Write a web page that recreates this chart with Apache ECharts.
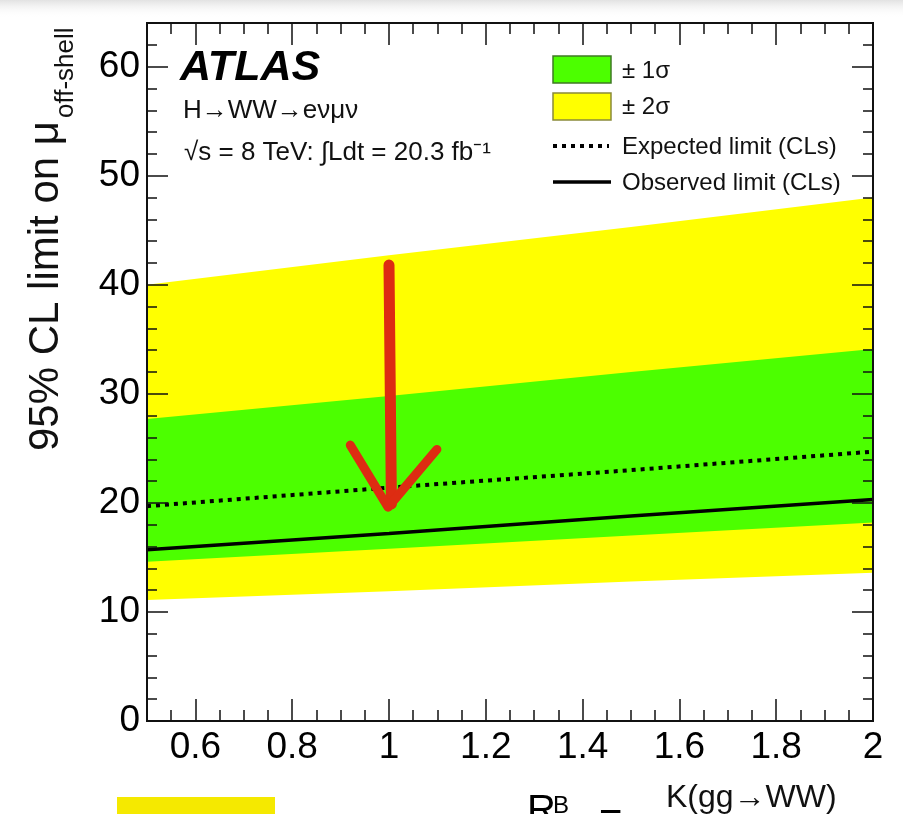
<!DOCTYPE html>
<html><head><meta charset="utf-8">
<script src="https://cdn.jsdelivr.net/npm/echarts@6/dist/echarts.min.js"></script>
<style>html,body{margin:0;padding:0;background:#fff}#c{width:903px;height:814px}</style>
</head><body><div id="c"></div>
<script>
// ---- data ----
const xValues       = [0.5, 1.0, 1.5, 2.0];
const twoSigmaUp    = [40.0, 42.7, 45.3, 48.0];
const oneSigmaUp    = [27.7, 29.8, 32.0, 34.1];
const expectedLimit = [19.7, 21.4, 23.0, 24.7];
const observedLimit = [15.7, 17.2, 18.8, 20.3];
const oneSigmaDown  = [14.6, 15.8, 17.0, 18.2];
const twoSigmaDown  = [11.1, 11.9, 12.8, 13.6];
const arrowShaft    = [[1.0, 41.8], [1.005, 19.9]];
const arrowHead     = [[0.92, 25.3], [0.998, 19.6], [1.099, 24.9]];
const xTickLabels   = [0.6, 0.8, 1.0, 1.2, 1.4, 1.6, 1.8, 2.0];
const yTickLabels   = [0, 10, 20, 30, 40, 50, 60];
const legendLabels  = ['± 1σ', '± 2σ', 'Expected limit (CLs)', 'Observed limit (CLs)'];

const FONT = 'Liberation Sans';
const YELLOW = '#ffff00', GREEN = '#4cff00', RED = '#dd2c12';

const chart = echarts.init(document.getElementById('c'), null, {renderer: 'canvas'});

function xAxisDef(pos, major, showLabel) {
  const a = {
    type: 'value', position: pos, min: 0.5, max: 2, z: 10, gridIndex: 0,
    axisLine: {show: true, onZero: false, lineStyle: {color: '#111', width: 2}},
    axisTick: {show: true, inside: true, length: major ? 22 : 11, lineStyle: {color: '#111', width: 1.5}},
    axisLabel: {show: false},
    splitLine: {show: false}
  };
  if (major) { a.axisTick.customValues = xTickLabels; }
  else { a.interval = 0.05; }
  if (showLabel) {
    a.axisLabel = {show: true, customValues: xTickLabels, fontSize: 37, color: '#000', fontFamily: FONT, margin: 8};
  }
  return a;
}
function yAxisDef(pos, major, showLabel) {
  const a = {
    type: 'value', position: pos, min: 0, max: 64, z: 10, gridIndex: 0,
    axisLine: {show: true, onZero: false, lineStyle: {color: '#111', width: 2}},
    axisTick: {show: true, inside: true, length: major ? 21 : 10, lineStyle: {color: '#111', width: 1.5}},
    axisLabel: {show: false},
    splitLine: {show: false}
  };
  if (major) { a.axisTick.customValues = yTickLabels; }
  else { a.interval = 2; }
  if (showLabel) {
    a.axisLabel = {show: true, customValues: yTickLabels, fontSize: 37, color: '#000', fontFamily: FONT, margin: 7};
  }
  return a;
}

const bands = [
  {hi: twoSigmaUp, lo: twoSigmaDown, color: YELLOW},
  {hi: oneSigmaUp, lo: oneSigmaDown, color: GREEN}
];

function txt(x, y, text, size, extra, rot) {
  const el = {
    type: 'text', x: x, y: y, z: 100,
    style: Object.assign({text: text, fontSize: size, fontFamily: FONT, fill: '#111', align: 'left', verticalAlign: 'middle'}, extra || {})
  };
  if (rot) el.rotation = rot;
  return el;
}

const option = {
  animation: false,
  backgroundColor: '#fff',
  grid: {left: 147, right: 30, top: 23, bottom: 93, outerBoundsMode: 'none', containLabel: false},
  xAxis: [xAxisDef('bottom', false, false), xAxisDef('bottom', true, true), xAxisDef('top', false, false), xAxisDef('top', true, false)],
  yAxis: [yAxisDef('left', false, false), yAxisDef('left', true, true), yAxisDef('right', false, false), yAxisDef('right', true, false)],
  series: [
    {
      type: 'custom', coordinateSystem: 'cartesian2d', xAxisIndex: 0, yAxisIndex: 0, silent: true, z: 1,
      data: bands.map(b => [xValues[0], b.lo[0]]),
      encode: {x: 0, y: 1},
      renderItem: function (params, api) {
        const b = bands[params.dataIndex];
        const pts = [];
        for (let i = 0; i < xValues.length; i++) pts.push(api.coord([xValues[i], b.hi[i]]));
        for (let i = xValues.length - 1; i >= 0; i--) pts.push(api.coord([xValues[i], b.lo[i]]));
        return {type: 'polygon', shape: {points: pts}, style: {fill: b.color, stroke: null}};
      }
    },
    {
      name: 'Expected limit (CLs)', type: 'line', xAxisIndex: 0, yAxisIndex: 0, z: 3, symbol: 'none', silent: true,
      data: xValues.map((x, i) => [x, expectedLimit[i]]),
      lineStyle: {color: '#000', width: 4, type: [4, 5], cap: 'butt'}
    },
    {
      name: 'Observed limit (CLs)', type: 'line', xAxisIndex: 0, yAxisIndex: 0, z: 3, symbol: 'none', silent: true,
      data: xValues.map((x, i) => [x, observedLimit[i]]),
      lineStyle: {color: '#000', width: 3.5}
    },
    {
      type: 'line', xAxisIndex: 0, yAxisIndex: 0, z: 4, symbol: 'none', silent: true,
      data: arrowShaft,
      lineStyle: {color: RED, width: 11, cap: 'round', join: 'round'}
    },
    {
      type: 'line', xAxisIndex: 0, yAxisIndex: 0, z: 4, symbol: 'none', silent: true,
      data: arrowHead,
      lineStyle: {color: RED, width: 9, cap: 'round', join: 'round'}
    }
  ],
  graphic: [
    // top shadow strip
    {type: 'rect', z: 100, shape: {x: 0, y: 0, width: 903, height: 18},
      style: {fill: new echarts.graphic.LinearGradient(0, 0, 0, 1, [{offset: 0, color: '#e2e2e2'}, {offset: 1, color: 'rgba(255,255,255,0)'}])}},
    // legend
    {type: 'rect', z: 100, shape: {x: 553, y: 56, width: 58, height: 27}, style: {fill: GREEN, stroke: '#3f7a25', lineWidth: 1.5}},
    {type: 'rect', z: 100, shape: {x: 553, y: 93, width: 58, height: 27}, style: {fill: YELLOW, stroke: '#8a8a3a', lineWidth: 1.5}},
    {type: 'line', z: 100, shape: {x1: 553, y1: 146, x2: 609, y2: 146}, style: {stroke: '#000', lineWidth: 4, lineDash: [4, 5]}},
    {type: 'line', z: 100, shape: {x1: 553, y1: 182, x2: 611, y2: 182}, style: {stroke: '#000', lineWidth: 3.5}},
    txt(622, 71, legendLabels[0], 24),
    txt(622, 107, legendLabels[1], 24),
    txt(622, 147, legendLabels[2], 24),
    txt(622, 183, legendLabels[3], 24),
    // ATLAS labels
    txt(180, 68, 'ATLAS', 43, {fontWeight: 'bold', fontStyle: 'italic', fill: '#000'}),
    txt(183, 111, 'H→WW→eνμν', 26),
    txt(184, 153, '√s = 8 TeV: ∫Ldt = 20.3 fb⁻¹', 26),
    // y axis title (reads bottom to top)
    txt(46, 451, '95% CL limit on μ', 42, {fill: '#111'}, Math.PI / 2),
    txt(66, 118, 'off-shell', 26, {fill: '#111'}, Math.PI / 2),
    // bottom clipped elements
    {type: 'rect', z: 100, shape: {x: 117, y: 797, width: 158, height: 20}, style: {fill: '#f5e900'}},
    txt(527, 812, 'R', 40, {fill: '#000'}),
    txt(553, 806, 'B', 24, {fill: '#000'}),
    txt(599, 819, '=', 40, {fill: '#000'}),
    txt(666, 798, 'K(gg→WW)', 32, {fill: '#111'})
  ]
};
chart.setOption(option);
</script>
</body></html>
